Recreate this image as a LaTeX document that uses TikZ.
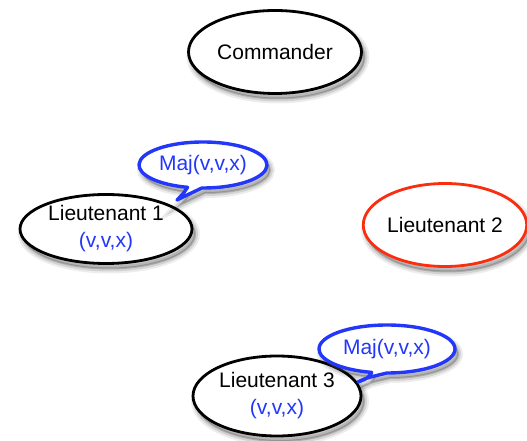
\documentclass[tikz,border=0pt]{standalone}
\usepackage{fontspec}
\setmainfont{Liberation Sans}
\usetikzlibrary{shapes.geometric,shadows}
\definecolor{msgblue}{RGB}{35,55,250}
\definecolor{traitor}{RGB}{250,45,15}
\tikzset{
  x=1pt, y=1pt,
  soft/.style={
    drop shadow={shadow xshift=3pt, shadow yshift=-5pt, opacity=0.07, draw=black, line width=10pt},
    drop shadow={shadow xshift=3pt, shadow yshift=-5pt, opacity=0.11, draw=black, line width=6pt},
    drop shadow={shadow xshift=3pt, shadow yshift=-5pt, opacity=0.18, draw=black, line width=2pt}},
  general/.style={ellipse, draw=black, line width=2.8pt, fill=white, soft,
    align=center, font=\fontsize{21}{27}\selectfont, inner sep=0pt},
  bubble/.style={draw=msgblue, line width=3.4pt, fill=white, line join=round, soft},
  bubbletext/.style={text=msgblue, font=\fontsize{21}{24}\selectfont, inner sep=0pt}
}
\begin{document}
\begin{tikzpicture}
\useasboundingbox (0,0) rectangle (527,441);

% the four generals
\node[general, minimum width=173pt, minimum height=83pt] (cmd) at (275,389) {Commander};
\node[general, minimum width=172pt, minimum height=69pt] (lt1) at (106,212)
  {Lieutenant 1\\\textcolor{msgblue}{(v,v,x)}};
\node[general, draw=traitor, minimum width=161pt, minimum height=83pt] (lt2) at (445,216) {Lieutenant 2};
\node[general, minimum width=168pt, minimum height=80pt] (lt3) at (277,45)
  {Lieutenant 3\\\textcolor{msgblue}{(v,v,x)}};

% majority-vote speech bubbles
\coordinate (tip1) at (177,241);
\coordinate (tip2) at (358,59);
\path (203,276) coordinate (b1c);
\path (387,92) coordinate (b2c);
\draw[bubble] (b1c) ++(269:64 and 23) arc[start angle=269, end angle=616, x radius=64, y radius=23]
  .. controls +(-4,-6) .. (tip1) .. controls +(8,4) .. cycle;
\draw[bubble] (b2c) ++(270:68 and 24) arc[start angle=270, end angle=617, x radius=68, y radius=24]
  .. controls +(-4,-6) .. (tip2) .. controls +(8,4) .. cycle;
\node[bubbletext] (maj1) at (b1c) {Maj(v,v,x)};
\node[bubbletext] (maj2) at (b2c) {Maj(v,v,x)};
\end{tikzpicture}
\end{document}
